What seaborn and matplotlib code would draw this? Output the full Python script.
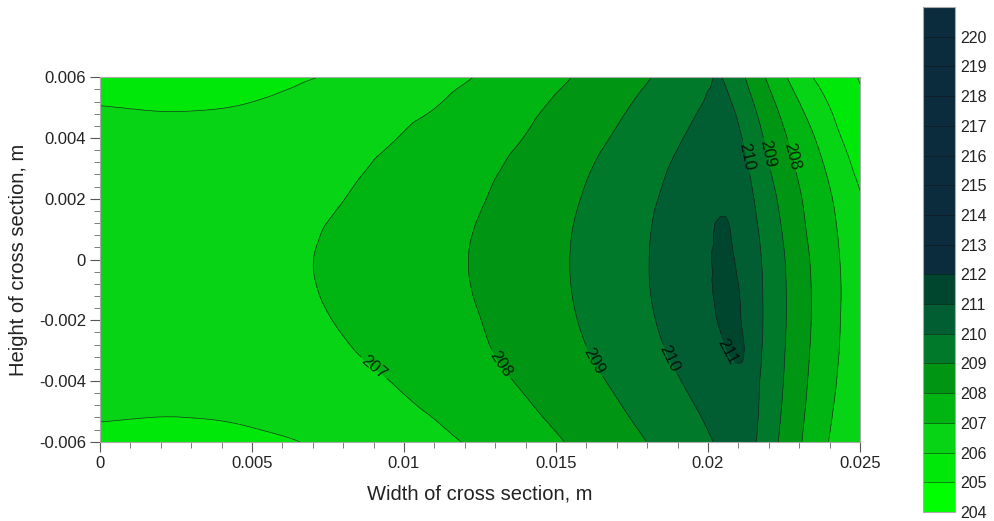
import numpy as np
import matplotlib
matplotlib.use("Agg")
import matplotlib.pyplot as plt
import matplotlib.tri as mtri
from matplotlib.colors import ListedColormap, BoundaryNorm
from matplotlib.ticker import MultipleLocator, FuncFormatter
import seaborn as sns

# ---- data: temperature (deg) on a grid ----
width_m = [0.0, 0.0025, 0.005, 0.0065, 0.008, 0.0095, 0.011, 0.0125, 0.014, 0.0155,
           0.017, 0.018, 0.019, 0.0198, 0.0204, 0.0208, 0.0212, 0.0216, 0.022, 0.0224,
           0.0228, 0.0232, 0.0236, 0.024, 0.0244, 0.0248, 0.025]
height_m = [0.006, 0.005, 0.004, 0.003, 0.002, 0.001, 0.0,
            -0.001, -0.002, -0.003, -0.004, -0.005, -0.006]

t_y_p006 = [205.7, 205.65, 205.8, 205.93, 206.12, 206.468, 206.72, 207.06, 207.54, 207.997, 208.564, 208.943, 209.379, 209.737, 210.03, 209.636, 209.03, 208.424, 207.831, 207.268, 206.744, 206.256, 205.872, 205.604, 205.336, 205.067, 204.95]
t_y_p005 = [206.02, 205.96, 206.05, 206.2, 206.464, 206.727, 206.991, 207.398, 207.81, 208.296, 208.843, 209.247, 209.68, 210.026, 210.286, 210.042, 209.486, 208.93, 208.366, 207.829, 207.341, 206.871, 206.441, 206.011, 205.685, 205.362, 205.2]
t_y_p004 = [206.3, 206.25, 206.35, 206.5, 206.723, 206.945, 207.278, 207.648, 208.025, 208.551, 209.091, 209.506, 209.921, 210.253, 210.502, 210.45, 209.873, 209.31, 208.766, 208.247, 207.774, 207.344, 206.909, 206.455, 205.99, 205.8, 205.7]
t_y_p003 = [206.4, 206.37, 206.45, 206.6, 206.852, 207.14, 207.477, 207.815, 208.234, 208.749, 209.313, 209.72, 210.126, 210.451, 210.65, 210.7, 210.183, 209.62, 209.056, 208.561, 208.073, 207.657, 207.253, 206.83, 206.375, 205.961, 205.85]
t_y_p002 = [206.45, 206.43, 206.52, 206.68, 206.988, 207.306, 207.624, 207.943, 208.401, 208.889, 209.46, 209.857, 210.256, 210.576, 210.85, 210.93, 210.413, 209.88, 209.347, 208.829, 208.341, 207.882, 207.49, 207.098, 206.683, 206.261, 206.05]
t_y_p001 = [206.48, 206.47, 206.58, 206.83, 207.141, 207.438, 207.735, 208.05, 208.517, 208.984, 209.558, 209.942, 210.388, 210.7, 211.08, 210.95, 210.465, 210.061, 209.553, 209.026, 208.525, 208.025, 207.631, 207.243, 206.84, 206.413, 206.2]
t_y_0000 = [206.5, 206.5, 206.62, 206.9, 207.189, 207.479, 207.768, 208.092, 208.552, 209.015, 209.59, 209.973, 210.425, 210.79, 211.12, 211.05, 210.648, 210.193, 209.697, 209.171, 208.663, 208.163, 207.733, 207.337, 206.936, 206.512, 206.3]
t_y_m001 = [206.48, 206.48, 206.6, 206.875, 207.161, 207.455, 207.749, 208.068, 208.533, 208.997, 209.573, 209.958, 210.414, 210.786, 211.12, 211.2, 210.779, 210.26, 209.74, 209.221, 208.716, 208.222, 207.78, 207.38, 206.977, 206.526, 206.3]
t_y_m002 = [206.45, 206.44, 206.55, 206.803, 207.067, 207.374, 207.681, 207.988, 208.454, 208.927, 209.492, 209.88, 210.34, 210.734, 211.05, 211.22, 210.87, 210.29, 209.74, 209.221, 208.716, 208.222, 207.776, 207.367, 206.955, 206.505, 206.28]
t_y_m003 = [206.4, 206.38, 206.48, 206.68, 206.927, 207.233, 207.563, 207.892, 208.323, 208.802, 209.349, 209.746, 210.177, 210.571, 210.867, 211.06, 210.99, 210.258, 209.697, 209.171, 208.663, 208.163, 207.733, 207.323, 206.912, 206.471, 206.25]
t_y_m004 = [206.3, 206.25, 206.33, 206.5, 206.747, 206.993, 207.355, 207.72, 208.116, 208.613, 209.134, 209.541, 209.947, 210.305, 210.577, 210.77, 210.82, 210.143, 209.623, 209.104, 208.595, 208.089, 207.656, 207.24, 206.823, 206.408, 206.2]
t_y_m005 = [206.1, 206.05, 206.15, 206.35, 206.579, 206.809, 207.067, 207.47, 207.874, 208.361, 208.888, 209.288, 209.712, 210.052, 210.313, 210.45, 210.5, 210.081, 209.541, 209.01, 208.494, 207.989, 207.549, 207.11, 206.717, 206.339, 206.15]
t_y_m006 = [205.79, 205.74, 205.856, 205.99, 206.262, 206.539, 206.815, 207.152, 207.606, 208.075, 208.634, 209.009, 209.464, 209.827, 210.1, 210.25, 210.3, 209.99, 209.437, 208.883, 208.364, 207.864, 207.409, 206.965, 206.619, 206.273, 206.1]

levels = list(range(204, 222))
cbar_ticks = list(range(204, 221))
band_colors = ['#00FF00', '#00E80A', '#06D414', '#00B412', '#009614', '#007A2A',
               '#005E32', '#00462E'] + ['#0B2C3C'] * 9
labelled_levels = [207, 208, 209, 210, 211]
label_pos = [(0.00895, -0.00364), (0.01326, -0.0034), (0.01622, -0.00337),
             (0.01868, -0.0033), (0.02072, -0.0030), (0.02109, 0.00334),
             (0.02178, 0.00344), (0.02253, 0.00334)]

# ---- style ----
sns.set_theme(style="ticks")
plt.rcParams['font.family'] = ['Liberation Sans', 'DejaVu Sans']

fig = plt.figure(figsize=(9.95, 5.21), dpi=100)
ax = fig.add_axes([0.1005, 0.1522, 0.7638, 0.6994])
cax = fig.add_axes([0.9276, 0.0173, 0.0322, 0.9693])

T = np.array([t_y_p006, t_y_p005, t_y_p004, t_y_p003, t_y_p002, t_y_p001, t_y_0000,
              t_y_m001, t_y_m002, t_y_m003, t_y_m004, t_y_m005, t_y_m006])
X, Y = np.meshgrid(width_m, height_m)
ny, nx = X.shape
triangles = []
for j in range(ny - 1):
    for i in range(nx - 1):
        a = j * nx + i
        b = a + 1
        c = a + nx
        d = c + 1
        triangles.append([a, b, d])
        triangles.append([a, d, c])
tri = mtri.Triangulation(X.ravel(), Y.ravel(), triangles=np.array(triangles))
dTdy, dTdx = np.gradient(T, np.array(height_m), np.array(width_m))
interp = mtri.CubicTriInterpolator(tri, T.ravel(), kind='user',
                                   dz=(dTdx.ravel(), dTdy.ravel()))
refiner = mtri.UniformTriRefiner(tri)
tri_f, T_f = refiner.refine_field(T.ravel(), triinterpolator=interp, subdiv=3)

cmap = ListedColormap(band_colors)
norm = BoundaryNorm(levels, cmap.N)
cf = ax.tricontourf(tri_f, T_f, levels=levels, cmap=cmap, norm=norm)
other_levels = [l for l in levels if l not in labelled_levels]
ax.tricontour(tri_f, T_f, levels=other_levels, colors='#1a1a1a', linewidths=0.5, alpha=0.8)
cs = ax.tricontour(tri_f, T_f, levels=labelled_levels, colors='#1a1a1a', linewidths=0.5, alpha=0.8)
ax.clabel(cs, manual=label_pos, fmt='%d', fontsize=12, inline=True,
          inline_spacing=3, colors='black')

ax.set_xlim(0, 0.025)
ax.set_ylim(-0.006, 0.006)
ax.xaxis.set_major_locator(MultipleLocator(0.005))
ax.xaxis.set_minor_locator(MultipleLocator(0.001))
ax.yaxis.set_major_locator(MultipleLocator(0.002))
ax.yaxis.set_minor_locator(MultipleLocator(0.0004))

def fmt(v, p):
    v = round(v, 6)
    if abs(v) < 1e-12:
        return '0'
    return '%g' % v

ax.xaxis.set_major_formatter(FuncFormatter(fmt))
ax.yaxis.set_major_formatter(FuncFormatter(fmt))
ax.tick_params(which='major', direction='out', length=7, width=0.8, color='#555555',
               labelsize=12, labelcolor='#222222', pad=3)
ax.tick_params(which='minor', direction='out', length=4, width=0.6, color='#666666')
for s in ax.spines.values():
    s.set_color('#aaaaaa')
    s.set_linewidth(0.8)
ax.set_xlabel('Width of cross section, m', fontsize=14.5, color='#222222', labelpad=10)
ax.set_ylabel('Height of cross section, m', fontsize=14.5, color='#222222', labelpad=8)

cbar = fig.colorbar(cf, cax=cax, ticks=cbar_ticks, drawedges=True)
cbar.ax.minorticks_off()
cbar.ax.tick_params(which='both', length=0, labelsize=11.5, labelcolor='#222222', pad=4)
cbar.outline.set_edgecolor('#aaaaaa')
cbar.outline.set_linewidth(0.8)
cbar.dividers.set_color('#111111')
cbar.dividers.set_linewidth(0.6)
cbar.dividers.set_alpha(0.6)

fig.savefig('out.png', dpi=100)
